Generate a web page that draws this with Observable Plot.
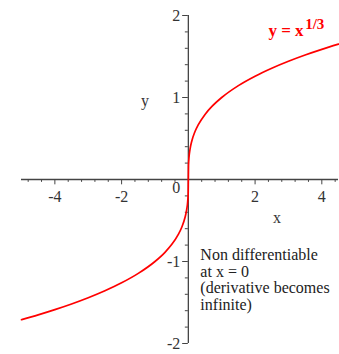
<!DOCTYPE html>
<html>
<head>
<meta charset="utf-8">
<script src="https://cdn.jsdelivr.net/npm/d3@7"></script>
<script src="https://cdn.jsdelivr.net/npm/@observablehq/plot@0.6"></script>
<style>
  html, body { margin: 0; padding: 0; background: #fff; }
  #chart svg { display: block; }
  #chart svg, #chart svg text { font-family: "Liberation Serif", "DejaVu Serif", serif !important; }
</style>
</head>
<body>
<div id="chart"></div>
<script>
// Sample points along the cube-root curve y = x^(1/3)
const xs = [-5, -4.5, -4, -3.5, -3, -2.5, -2, -1.5, -1, -0.7, -0.5, -0.3, -0.2, -0.1, -0.05, -0.02, -0.005, 0,
            0.005, 0.02, 0.05, 0.1, 0.2, 0.3, 0.5, 0.7, 1, 1.5, 2, 2.5, 3, 3.5, 4, 4.5];
const ys = [-1.71, -1.651, -1.587, -1.518, -1.442, -1.357, -1.26, -1.145, -1, -0.888, -0.794, -0.669, -0.585, -0.464, -0.368, -0.271, -0.171, 0,
            0.171, 0.271, 0.368, 0.464, 0.585, 0.669, 0.794, 0.888, 1, 1.145, 1.26, 1.357, 1.442, 1.518, 1.587, 1.651];

// Axis ticks and labels
const xMajorTicks = [-4, -2, 2, 4];
const xMinorTicks = [-4.8, -4.4, -3.6, -3.2, -2.8, -2.4, -1.6, -1.2, -0.8, -0.4, 0.4, 0.8, 1.2, 1.6, 2.4, 2.8, 3.2, 3.6, 4.4];
const xTickLabels = ["-4", "-2", "2", "4"];
const yMajorTicks = [-2, -1, 1, 2];
const yMinorTicks = [-1.8, -1.6, -1.4, -1.2, -0.8, -0.6, -0.4, -0.2, 0.2, 0.4, 0.6, 0.8, 1.2, 1.4, 1.6, 1.8];
const yTickLabels = ["-2", "-1", "1", "2"];

const note = "Non differentiable\nat x = 0\n(derivative becomes\ninfinite)";

const curve = xs.map((x, i) => ({x, y: ys[i]}));
const font = "Liberation Serif";
const axisColor = "#444";

const chart = Plot.plot({
  width: 339,
  height: 354,
  marginLeft: 21,
  marginRight: 1,
  marginTop: 15,
  marginBottom: 11,
  style: {fontFamily: font, background: "#fff"},
  x: {domain: [-5, 4.5], axis: null},
  y: {domain: [-2, 2], axis: null},
  marks: [
    // axis lines through the origin
    Plot.ruleY([0], {stroke: axisColor, strokeWidth: 1.3}),
    Plot.ruleX([0], {y1: -2, y2: 2, stroke: axisColor, strokeWidth: 1.3}),
    // x ticks hang below the axis
    Plot.ruleX(xMajorTicks, {x: d => d, y1: 0, y2: -0.065, stroke: axisColor}),
    Plot.ruleX(xMinorTicks, {x: d => d, y1: 0, y2: -0.035, stroke: axisColor}),
    // y ticks point left of the axis
    Plot.ruleY(yMajorTicks, {y: d => d, x1: 0, x2: -0.17, stroke: axisColor}),
    Plot.ruleY(yMinorTicks, {y: d => d, x1: 0, x2: -0.09, stroke: axisColor}),
    // tick labels
    Plot.text(xMajorTicks, {x: d => d, y: 0, text: (d, i) => xTickLabels[i], dy: 17, fontSize: 16, fill: "#333", fontFamily: font}),
    Plot.text(yMajorTicks, {x: 0, y: d => d, text: (d, i) => yTickLabels[i], dx: -8, textAnchor: "end", fontSize: 16, fill: "#333", fontFamily: font}),
    Plot.text([0], {x: 0, y: 0, text: ["0"], dx: -8, dy: 8, textAnchor: "end", fontSize: 16, fill: "#333", fontFamily: font}),
    // axis titles
    Plot.text(["x"], {x: 2.66, y: -0.47, text: d => d, fontSize: 16, fill: "#333", fontFamily: font}),
    Plot.text(["y"], {x: -1.3, y: 0.96, text: d => d, fontSize: 16, fill: "#333", fontFamily: font}),
    // the curve
    Plot.line(curve, {x: "x", y: "y", stroke: "#ff0000", strokeWidth: 1.7, curve: "monotone-x"}),
    // function label with superscript exponent
    Plot.text(["y = x"], {x: 2.4, y: 1.82, text: d => d, textAnchor: "start", fontWeight: "bold", fontSize: 17, fill: "#ff0000", fontFamily: font}),
    Plot.text(["1/3"], {x: 3.5, y: 1.9, text: d => d, textAnchor: "start", fontWeight: "bold", fontSize: 15, fill: "#ff0000", fontFamily: font}),
    // annotation
    Plot.text([note], {x: 0.36, y: -0.835, text: d => d, textAnchor: "start", lineAnchor: "top", lineHeight: 1.05, fontSize: 16, fill: "#222", fontFamily: font})
  ]
});

document.getElementById("chart").append(chart);
</script>
</body>
</html>
